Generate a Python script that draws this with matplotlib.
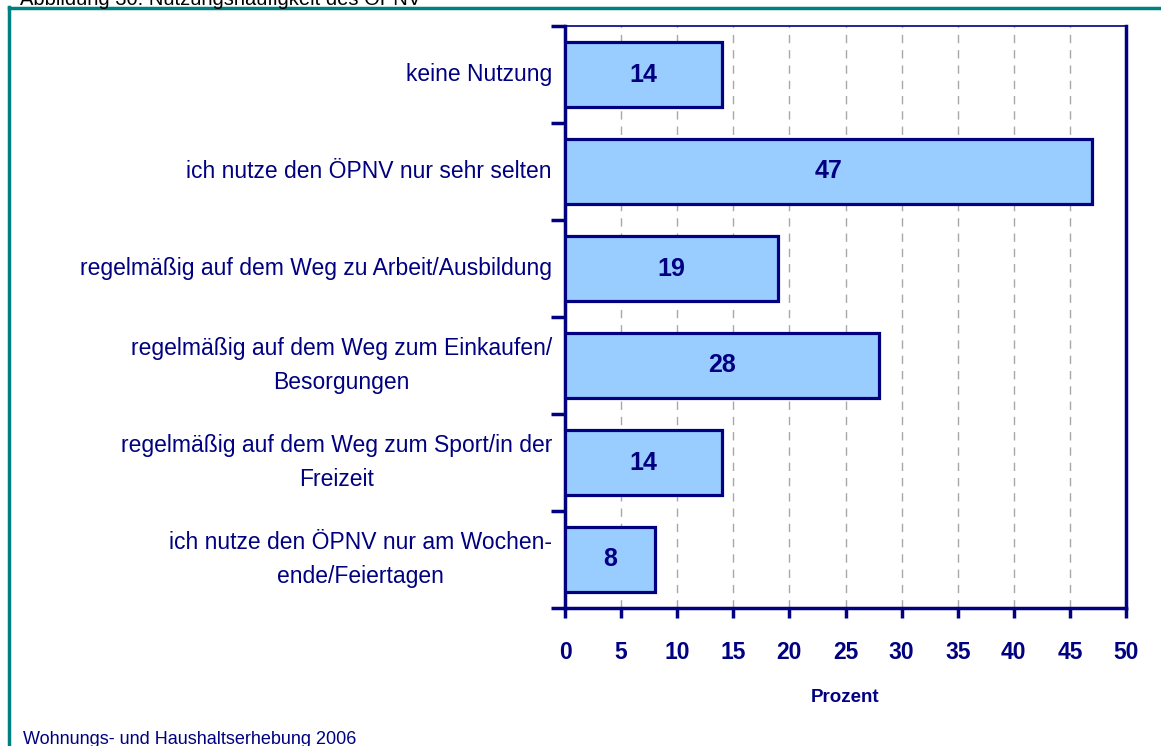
import matplotlib
matplotlib.use("Agg")
import matplotlib.pyplot as plt
import numpy as np

categories = [
    "keine Nutzung",
    "ich nutze den ÖPNV nur sehr selten",
    "regelmäßig auf dem Weg zu Arbeit/Ausbildung",
    "regelmäßig auf dem Weg zum Einkaufen/\nBesorgungen",
    "regelmäßig auf dem Weg zum Sport/in der\nFreizeit",
    "ich nutze den ÖPNV nur am Wochen-\nende/Feiertagen",
]
values = [14, 47, 19, 28, 14, 8]
xticks = [0, 5, 10, 15, 20, 25, 30, 35, 40, 45, 50]

navy = "#000080"
fill = "#99CCFF"
teal = "#008080"
plt.rcParams['font.family'] = ['Liberation Sans', 'DejaVu Sans']

fig = plt.figure(figsize=(11.61, 7.46), dpi=100)
ax = fig.add_axes([565/1161, 1-608/746, (1126-565)/1161, (608-26)/746])

y = np.arange(len(categories))
ax.barh(y, values, height=0.67, color=fill, edgecolor=navy, linewidth=2.3, zorder=3)
for yi, v in zip(y, values):
    ax.text(v/2, yi, str(v), ha='center', va='center', color=navy,
            fontsize=18, fontweight='bold', zorder=4)

ax.set_xlim(0, 50)
ax.set_ylim(len(categories)-0.5, -0.5)
ax.set_xticks(xticks)
ax.set_xticklabels([str(t) for t in xticks], fontsize=16.5, fontweight='bold', color=navy)
ax.tick_params(axis='x', direction='out', length=7, width=2.5, color=navy, pad=17)

ax.set_yticks(y)
ax.set_yticklabels([])
ax.tick_params(axis='y', which='major', length=0)
ax.set_yticks(np.arange(-0.5, len(categories), 1.0), minor=True)
ax.tick_params(axis='y', which='minor', direction='out', length=10, width=2.5, color=navy)

for yi, cat in enumerate(categories):
    ax.annotate(cat, xy=(0, yi), xycoords='data', xytext=(-13, 0), textcoords='offset pixels',
                ha='right', va='center', fontsize=16.5, color=navy, multialignment='center',
                linespacing=1.65, annotation_clip=False)

ax.xaxis.grid(True, linestyle=(0, (6, 5)), color='#a8a8a8', linewidth=1, zorder=0)
ax.set_axisbelow(True)

for s in ['left', 'bottom', 'right']:
    ax.spines[s].set_color(navy)
    ax.spines[s].set_linewidth(2.5)
ax.spines['top'].set_color(navy)
ax.spines['top'].set_linewidth(1.2)

ax.set_xlabel("Prozent", fontsize=13.5, fontweight='bold', color=navy, labelpad=18)

# figure frame and texts
fig.add_artist(plt.Line2D([9/1161, 9/1161], [0, 1-7/746], color=teal, linewidth=2.5, transform=fig.transFigure))
fig.add_artist(plt.Line2D([9/1161, 1], [1-7.5/746, 1-7.5/746], color=teal, linewidth=2.5, transform=fig.transFigure))
fig.text(20/1161, 1-5/746, "Abbildung 30: Nutzungshäufigkeit des ÖPNV", fontsize=14.5,
         color='black', ha='left', va='baseline')
fig.text(23/1161, 1-744/746, "Wohnungs- und Haushaltserhebung 2006", fontsize=13,
         color=navy, ha='left', va='baseline')

fig.savefig("out.png", dpi=100)
